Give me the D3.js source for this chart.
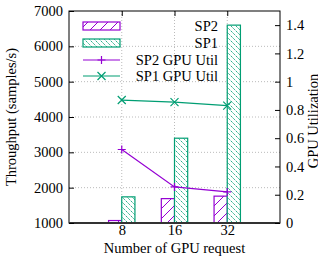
<!DOCTYPE html>
<html>
<head>
<meta charset="utf-8">
<script src="https://cdn.jsdelivr.net/npm/d3@7"></script>
<style>
	body { margin: 0; background: #fff; }
	svg text { font-family: "Liberation Serif", "DejaVu Serif", serif; fill: #000; }
</style>
</head>
<body>
<div id="chart"></div>
<script>
// Data
var requests =	["8", "16", "32"];
var sp2Thr =	[1070, 1690, 1760];
var sp1Thr =	[1740, 3400, 6600];
var sp2Util =	[0.52, 0.255, 0.22];
var sp1Util =	[0.87, 0.855, 0.83];
var leftTicks =	[1000, 2000, 3000, 4000, 5000, 6000, 7000];
var rightTicks = [0, 0.2, 0.4, 0.6, 0.8, 1, 1.2, 1.4];

// Constants
var W = 318, H = 256;
var plot = { left: 69, right: 280, top: 11, bottom: 223 };
var purple = "#9400d3", green = "#009e73";
var fs = "14.5px";

var svg = d3.select("#chart").append("svg")
	.attr("width", W).attr("height", H);

// Scales
var x = d3.scaleLinear().domain([0, 4]).range([plot.left, plot.right]);
var yL = d3.scaleLinear().domain([1000, 7000]).range([plot.bottom, plot.top]);
var yR = d3.scaleLinear().domain([0, 1.5]).range([plot.bottom, plot.top]);
var barW = (x(1) - x(0)) * 0.25;

// Patterns
var defs = svg.append("defs");
defs.append("pattern").attr("id", "p2").attr("patternUnits", "userSpaceOnUse")
	.attr("width", 10).attr("height", 10)
	.append("path").attr("d", "M-1,11 L11,-1 M-2,2 L2,-2 M8,12 L12,8")
	.attr("stroke", purple).attr("stroke-width", 1);
defs.append("pattern").attr("id", "p1").attr("patternUnits", "userSpaceOnUse")
	.attr("width", 5).attr("height", 5)
	.append("path").attr("d", "M-1,-1 L6,6 M-1,4 L1,6 M4,-1 L6,1")
	.attr("stroke", green).attr("stroke-width", 1).attr("stroke-dasharray", "1.5,1");

// Grid
var grid = svg.append("g").attr("stroke", "#bbb").attr("stroke-dasharray", "1,2").attr("stroke-width", 1);
leftTicks.slice(1, -1).forEach(function(t) {
	grid.append("line").attr("x1", plot.left).attr("x2", plot.right)
		.attr("y1", yL(t)).attr("y2", yL(t));
});
requests.forEach(function(r, i) {
	grid.append("line").attr("x1", x(i + 1)).attr("x2", x(i + 1))
		.attr("y1", plot.top).attr("y2", plot.bottom);
});

// Bars
function bars(vals, off, fill, color) {
	var g = svg.append("g");
	g.selectAll("rect.bg").data(vals).enter().append("rect")
		.attr("x", function(d, i) { return x(i + 1) + off * barW; })
		.attr("width", barW)
		.attr("y", function(d) { return yL(d); })
		.attr("height", function(d) { return yL(1000) - yL(d); })
		.attr("fill", "#fff");
	g.selectAll("rect.fg").data(vals).enter().append("rect")
		.attr("x", function(d, i) { return x(i + 1) + off * barW; })
		.attr("width", barW)
		.attr("y", function(d) { return yL(d); })
		.attr("height", function(d) { return yL(1000) - yL(d); })
		.attr("fill", fill).attr("stroke", color).attr("stroke-width", 1.2);
}
bars(sp2Thr, -1, "url(#p2)", purple);
bars(sp1Thr, 0, "url(#p1)", green);

// Lines
function util(vals, color, marker) {
	var line = d3.line()
		.x(function(d, i) { return x(i + 1); })
		.y(function(d) { return yR(d); });
	svg.append("path").datum(vals).attr("d", line)
		.attr("fill", "none").attr("stroke", color).attr("stroke-width", 1.2);
	vals.forEach(function(d, i) {
		drawMarker(x(i + 1), yR(d), color, marker);
	});
}
function drawMarker(cx, cy, color, marker) {
	var s = 4;
	var p = marker == "+" ?
		"M" + (cx - s) + "," + cy + "H" + (cx + s) + "M" + cx + "," + (cy - s) + "V" + (cy + s) :
		"M" + (cx - s) + "," + (cy - s) + "L" + (cx + s) + "," + (cy + s) + "M" + (cx - s) + "," + (cy + s) + "L" + (cx + s) + "," + (cy - s);
	svg.append("path").attr("d", p).attr("stroke", color).attr("stroke-width", 1.2);
}
util(sp2Util, purple, "+");
util(sp1Util, green, "x");

// Frame
svg.append("rect").attr("x", plot.left).attr("y", plot.top)
	.attr("width", plot.right - plot.left).attr("height", plot.bottom - plot.top)
	.attr("fill", "none").attr("stroke", "#000").attr("stroke-width", 1);
svg.append("line").attr("x1", plot.left).attr("x2", plot.right)
	.attr("y1", plot.bottom).attr("y2", plot.bottom)
	.attr("stroke", "#333").attr("stroke-width", 2.2);

// Axes
var axL = svg.append("g").attr("transform", "translate(" + plot.left + ",0)")
	.call(d3.axisLeft(yL).tickValues(leftTicks).tickSizeInner(-5).tickSizeOuter(0).tickPadding(6)
		.tickFormat(d3.format("d")));
var axR = svg.append("g").attr("transform", "translate(" + plot.right + ",0)")
	.call(d3.axisRight(yR).tickValues(rightTicks).tickSizeInner(-5).tickSizeOuter(0).tickPadding(6)
		.tickFormat(function(d) { return d3.format("~g")(d); }));
var axB = svg.append("g").attr("transform", "translate(0," + plot.bottom + ")")
	.call(d3.axisBottom(x).tickValues([1, 2, 3]).tickSizeInner(0).tickSizeOuter(0).tickPadding(2)
		.tickFormat(function(d) { return requests[d - 1]; }));
var axT = svg.append("g").attr("transform", "translate(0," + plot.top + ")")
	.call(d3.axisTop(x).tickValues([1, 2, 3]).tickSizeInner(-5).tickSizeOuter(0).tickFormat(""));
[axL, axR, axB, axT].forEach(function(a) {
	a.select(".domain").remove();
	a.selectAll("text").style("font-size", fs);
	a.selectAll("line").attr("stroke", "#000");
});

// Axis titles
svg.append("text").attr("transform", "translate(16," + ((plot.top + plot.bottom) / 2) + ") rotate(-90)")
	.attr("text-anchor", "middle").style("font-size", fs).text("Throughput (samples/s)");
svg.append("text").attr("transform", "translate(318,121) rotate(-90)")
	.attr("text-anchor", "middle").style("font-size", fs).text("GPU Utilization");
svg.append("text").attr("x", (plot.left + plot.right) / 2).attr("y", 253)
	.attr("text-anchor", "middle").style("font-size", fs).text("Number of GPU request");

// Legend
var legend = [
	{ t: "SP2", type: "bar", fill: "url(#p2)", c: purple },
	{ t: "SP1", type: "bar", fill: "url(#p1)", c: green },
	{ t: "SP2 GPU Util", type: "line", c: purple, m: "+" },
	{ t: "SP1 GPU Util", type: "line", c: green, m: "x" }
];
var rowY = [26, 43, 60, 76];
legend.forEach(function(l, i) {
	var y = rowY[i];
	if (l.type == "bar") {
		svg.append("rect").attr("x", 83).attr("y", y - 4).attr("width", 37).attr("height", 8)
			.attr("fill", "#fff");
		svg.append("rect").attr("x", 83).attr("y", y - 4).attr("width", 37).attr("height", 8)
			.attr("fill", l.fill).attr("stroke", l.c).attr("stroke-width", 1.2);
	} else {
		svg.append("line").attr("x1", 83).attr("x2", 120).attr("y1", y).attr("y2", y)
			.attr("stroke", l.c).attr("stroke-width", 1.2);
		drawMarker(101.5, y, l.c, l.m);
	}
	svg.append("text").attr("x", 218).attr("y", y + 5).attr("text-anchor", "end")
		.style("font-size", fs).text(l.t);
});
</script>
</body>
</html>
